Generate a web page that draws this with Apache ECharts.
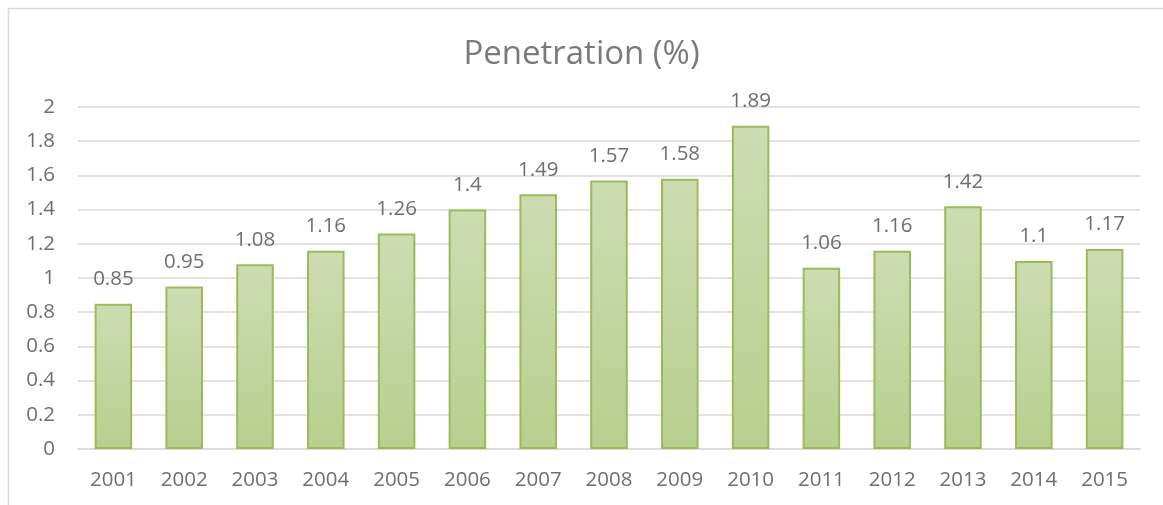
<!DOCTYPE html>
<html><head><meta charset="utf-8">
<script src="https://cdn.jsdelivr.net/npm/echarts@6/dist/echarts.min.js"></script>
<style>html,body{margin:0;padding:0;background:#fff;}#c{width:1163px;height:505px;}</style>
</head><body><div id="c"></div>
<script>
const categories = ['2001','2002','2003','2004','2005','2006','2007','2008','2009','2010','2011','2012','2013','2014','2015'];
const penetration = [0.85,0.95,1.08,1.16,1.26,1.4,1.49,1.57,1.58,1.89,1.06,1.16,1.42,1.1,1.17];
const chart = echarts.init(document.getElementById('c'));
chart.setOption({
  animation:false,
  backgroundColor:'#fff',
  textStyle:{fontFamily:'Open Sans'},
  title:{text:'Penetration (%)',left:'center',top:33,textStyle:{fontSize:33,fontWeight:'normal',color:'#7a7a7a',fontFamily:'Open Sans'}},
  graphic:[{type:'rect',shape:{x:8.5,y:8.5,width:1180,height:540},style:{fill:'none',stroke:'#d9d9d9',lineWidth:1.5}}],
  grid:{left:78,right:23,top:107,bottom:56},
  xAxis:{type:'category',data:categories,axisTick:{show:false},axisLine:{lineStyle:{color:'#d9d9d9',width:1.5}},
    axisLabel:{color:'#6f6f6f',fontSize:20.5,margin:21}},
  yAxis:{type:'value',min:0,max:2,interval:0.2,axisLine:{show:false},axisTick:{show:false},
    splitLine:{lineStyle:{color:'#d9d9d9',width:1.5}},
    axisLabel:{color:'#6f6f6f',fontSize:20.5,margin:23,formatter:v=>String(Math.round(v*10)/10)}},
  series:[{type:'bar',data:penetration,barWidth:'53%',
    itemStyle:{borderColor:'#9bbb59',borderWidth:2,
      color:new echarts.graphic.LinearGradient(0,0,0,1,[{offset:0,color:'#cedcb2'},{offset:1,color:'#b7cf8f'}])},
    label:{show:true,position:'top',distance:14,color:'#6f6f6f',fontSize:20.5}}]
});
</script></body></html>
